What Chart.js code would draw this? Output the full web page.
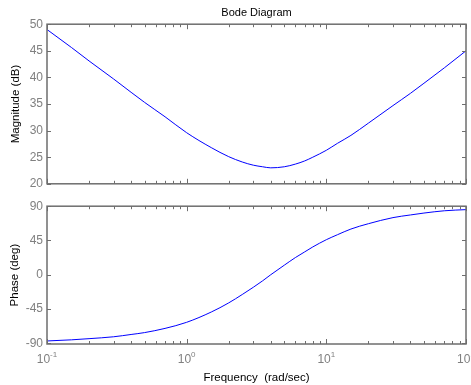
<!DOCTYPE html>
<html>
<head>
<meta charset="utf-8">
<script src="https://cdn.jsdelivr.net/npm/chart.js@4/dist/chart.umd.min.js"></script>
<style>
  body { margin: 0; background: #fff; }
  #wrap { position: relative; width: 471px; height: 385px; }
  canvas { position: absolute; left: 0; }
</style>
</head>
<body>
<div id="wrap">
  <canvas id="magChart" width="471" height="195" style="top:0"></canvas>
  <canvas id="phaseChart" width="471" height="190" style="top:195px"></canvas>
</div>
<script>
// Frequencies (rad/sec)
const freqs = [0.1, 0.15, 0.2, 0.3, 0.4, 0.5, 0.7, 1, 1.5, 2, 2.5, 3, 3.5, 4, 5, 6, 7, 8, 10, 12, 15, 20, 30, 40, 50, 70, 100]

// Magnitude (dB)
const magnitude = [49.0, 45.6, 43.1, 39.7, 37.2, 35.3, 32.6, 29.6, 26.8, 25.1, 24.1, 23.5, 23.2, 23.0, 23.2, 23.7, 24.3, 25.0, 26.3, 27.6, 29.1, 31.4, 34.7, 37.0, 38.9, 41.8, 45.0]

// Phase (deg)
const phase = [-87, -85.5, -84, -81.5, -78.5, -76, -70.5, -62.5, -49, -37, -26, -16.5, -8, 0, 12.5, 22.5, 30, 36.5, 46, 52.5, 60, 67, 75, 78.5, 81, 84, 85.5]

const magTicks = [20, 25, 30, 35, 40, 45, 50]
const phaseTicks = [-90, -45, 0, 45, 90]
const decades = [-1, 0, 1, 2]

const boxColor = '#6e6e6e'
const labelColor = '#808080'
const fontFamily = 'Arial, "Liberation Sans", Helvetica, sans-serif'

// MATLAB style box, inward ticks and 10^n labels
const matlabAxes = (showXLabels) => ({
    id: 'matlabAxes',
    afterDraw(chart) {
        const { ctx, chartArea: a, scales } = chart
        const x = scales.x
        const y = scales.y
        ctx.save()
        ctx.strokeStyle = boxColor
        ctx.lineWidth = 1
        ctx.beginPath()
        // x ticks, major + minor
        decades.forEach(d => {
            for (let m = 1; m <= 9; m++) {
                const v = m * Math.pow(10, d)
                if (v < x.min || v > x.max) continue
                const px = Math.round(x.getPixelForValue(v)) + 0.5
                const len = m === 1 ? 5 : 3
                ctx.moveTo(px, a.bottom)
                ctx.lineTo(px, a.bottom - len)
                ctx.moveTo(px, a.top)
                ctx.lineTo(px, a.top + len)
            }
        })
        // y ticks
        y.ticks.forEach(t => {
            const py = Math.round(y.getPixelForValue(t.value)) + 0.5
            ctx.moveTo(a.left, py)
            ctx.lineTo(a.left + 4, py)
            ctx.moveTo(a.right, py)
            ctx.lineTo(a.right - 4, py)
        })
        ctx.stroke()
        // box
        ctx.lineWidth = 1.5
        ctx.strokeRect(a.left, a.top, a.right - a.left, a.bottom - a.top)

        if (showXLabels) {
            ctx.fillStyle = labelColor
            ctx.textBaseline = 'alphabetic'
            decades.forEach(d => {
                const px = x.getPixelForValue(Math.pow(10, d))
                const exp = String(d)
                ctx.font = '12px ' + fontFamily
                const baseW = ctx.measureText('10').width
                ctx.font = '8px ' + fontFamily
                const expW = ctx.measureText(exp).width
                const start = px - (baseW + expW) / 2
                ctx.font = '12px ' + fontFamily
                ctx.fillText('10', start, a.bottom + 19)
                ctx.font = '8px ' + fontFamily
                ctx.fillText(exp, start + baseW, a.bottom + 13)
            })
        }
        ctx.restore()
    }
})

const yScale = (min, max, ticks, title, titleGap) => ({
    type: 'linear',
    min: min,
    max: max,
    afterBuildTicks: (scale) => { scale.ticks = ticks.map(v => ({ value: v })) },
    afterFit: (scale) => { scale.width = 47 },
    border: { display: false },
    grid: { display: false, drawTicks: false },
    ticks: {
        color: labelColor,
        padding: 4,
        font: { family: fontFamily, size: 12 }
    },
    title: {
        display: true,
        text: title,
        color: '#000',
        padding: { top: titleGap, bottom: 0 },
        font: { family: fontFamily, size: 11.5 }
    }
})

const lineData = (values) => ({
    datasets: [{
        data: freqs.map((f, i) => ({ x: f, y: values[i] })),
        borderColor: '#0000ff',
        borderWidth: 1,
        pointRadius: 0,
        cubicInterpolationMode: 'monotone',
        fill: false
    }]
})

const render = () => {
    const magChart = new Chart(document.getElementById('magChart'), {
        type: 'line',
        data: lineData(magnitude),
        options: {
            responsive: false,
            animation: false,
            layout: { padding: { left: 0, right: 5, top: 0, bottom: 0 } },
            plugins: {
                legend: { display: false },
                tooltip: { enabled: false },
                title: {
                    display: true,
                    text: 'Bode Diagram',
                    fullSize: false,
                    color: '#000',
                    padding: { top: 6, bottom: 5 },
                    font: { family: fontFamily, size: 11, weight: 'normal' }
                }
            },
            scales: {
                x: {
                    type: 'logarithmic',
                    min: 0.1,
                    max: 100,
                    afterFit: (scale) => { scale.height = 5 },
                    border: { display: false },
                    grid: { display: false, drawTicks: false },
                    ticks: { display: false }
                },
                y: yScale(20, 50, magTicks, 'Magnitude (dB)', 9)
            }
        },
        plugins: [matlabAxes(false)]
    })

    const phaseChart = new Chart(document.getElementById('phaseChart'), {
        type: 'line',
        data: lineData(phase),
        options: {
            responsive: false,
            animation: false,
            layout: { padding: { left: 0, right: 5, top: 4, bottom: 0 } },
            plugins: {
                legend: { display: false },
                tooltip: { enabled: false }
            },
            scales: {
                x: {
                    type: 'logarithmic',
                    min: 0.1,
                    max: 100,
                    afterFit: (scale) => { scale.height = 41 },
                    border: { display: false },
                    grid: { display: false, drawTicks: false },
                    ticks: { display: false },
                    title: {
                        display: true,
                        text: 'Frequency  (rad/sec)',
                        color: '#000',
                        padding: { top: 0, bottom: 0 },
                        font: { family: fontFamily, size: 11.5 }
                    }
                },
                y: yScale(-91, 90, phaseTicks, 'Phase (deg)', 8)
            }
        },
        plugins: [matlabAxes(true)]
    })
}

render()
</script>
</body>
</html>
